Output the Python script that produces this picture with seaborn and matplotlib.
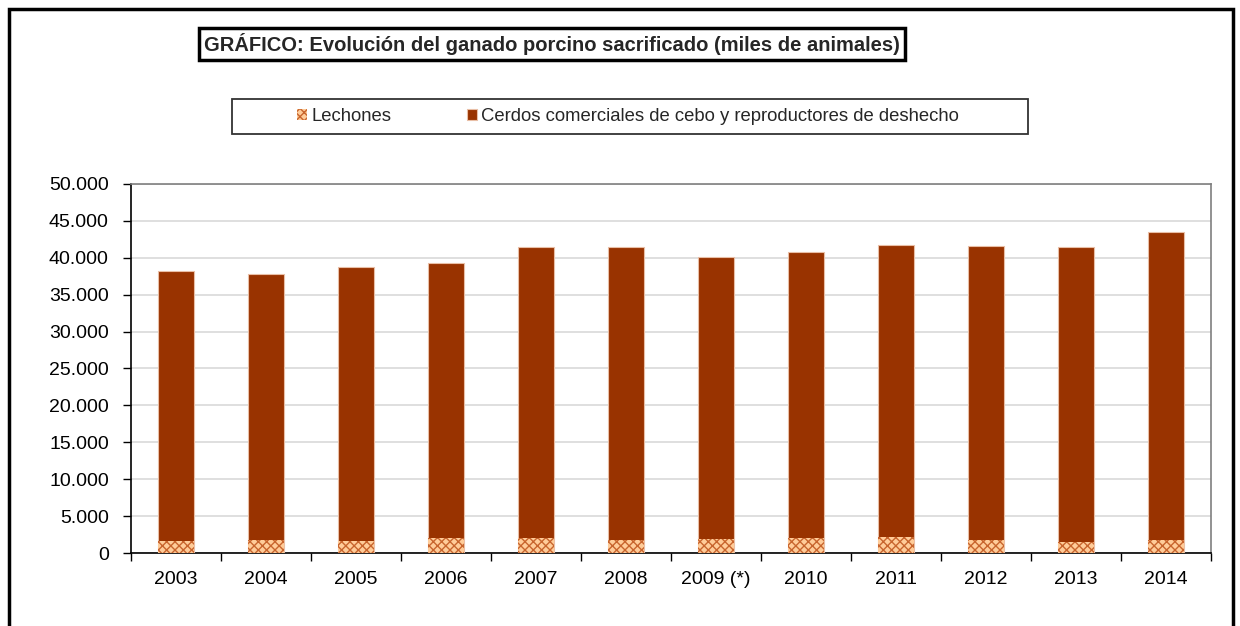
import numpy as np
import pandas as pd
import matplotlib
matplotlib.use("Agg")
import matplotlib.pyplot as plt
from matplotlib.patches import Rectangle
from matplotlib.ticker import FuncFormatter, FixedLocator
import seaborn as sns

# miles de animales
anios = ["2003", "2004", "2005", "2006", "2007", "2008",
         "2009 (*)", "2010", "2011", "2012", "2013", "2014"]
lechones = [1670, 1760, 1580, 1990, 2000, 1760, 1850, 2000, 2200, 1720, 1530, 1720]
cerdos = [36530, 36040, 37120, 37260, 39500, 39640, 38300, 38850, 39500, 39830, 39870, 41780]

etiqueta_lechones = "Lechones"
etiqueta_cerdos = "Cerdos comerciales de cebo y reproductores de deshecho"
titulo = "GRÁFICO: Evolución del ganado porcino sacrificado (miles de animales)"

W, H = 1240, 626

sns.set_style("white")
plt.rcParams["font.family"] = ["Liberation Sans", "DejaVu Sans"]
plt.rcParams["hatch.linewidth"] = 1.0

df = pd.DataFrame({"anio": anios, "lechones": lechones, "cerdos": cerdos})
df["total"] = df["lechones"] + df["cerdos"]

fig = plt.figure(figsize=(W / 100, H / 100), dpi=100)
ax = fig.add_axes([131 / W, 1 - 553 / H, 1080 / W, 369 / H])

sns.barplot(data=df, x="anio", y="total", color="#993300", saturation=1,
            width=0.4, edgecolor="#E9BFA6", linewidth=0.8, ax=ax, zorder=3)
sns.barplot(data=df, x="anio", y="lechones", color="#FFCC99", saturation=1,
            width=0.4, edgecolor="#C8652E", linewidth=0, hatch="xxxx",
            ax=ax, zorder=4)

ax.set_ylim(0, 50000)
ax.set_xlim(-0.5, len(anios) - 0.5)
ax.set_yticks(np.arange(0, 50001, 5000))
ax.yaxis.set_major_formatter(FuncFormatter(lambda v, p: f"{int(v):,}".replace(",", ".")))
ax.grid(axis="y", color="#D9D9D9", linewidth=1.2, zorder=0)
ax.set_axisbelow(True)
ax.set_xlabel("")
ax.set_ylabel("")

ax.xaxis.set_minor_locator(FixedLocator(np.arange(-0.5, len(anios), 1)))
ax.tick_params(axis="x", which="major", length=0, pad=13, labelsize=14, colors="black")
ax.tick_params(axis="x", which="minor", length=6, width=1, color="black", direction="out", bottom=True)
ax.tick_params(axis="y", which="major", length=6, width=1, color="black", direction="out",
               left=True, pad=10, labelsize=14, labelcolor="black")

for s in ["left", "bottom"]:
    ax.spines[s].set_color("black")
    ax.spines[s].set_linewidth(1.2)
for s in ["top", "right"]:
    ax.spines[s].set_color("#7F7F7F")
    ax.spines[s].set_linewidth(1.2)

# leyenda
handles = [ax.containers[1], ax.containers[0]]
fig.legend(handles, [etiqueta_lechones, etiqueta_cerdos], loc="center",
           bbox_to_anchor=(628 / W, 1 - 116.5 / H), ncol=2, frameon=False,
           fontsize=13.3, handlelength=0.55, handleheight=0.55,
           handletextpad=0.2, columnspacing=4.1)
fig.add_artist(Rectangle((232 / W, 1 - 134 / H), 796 / W, 35 / H,
                         transform=fig.transFigure, fill=False,
                         edgecolor="#333333", linewidth=1.3))

# titulo en recuadro
fig.text(552 / W, 1 - 44 / H, titulo, ha="center", va="center",
         fontsize=14.5, fontweight="bold",
         bbox=dict(boxstyle="square,pad=0.25", facecolor="white",
                   edgecolor="black", linewidth=2.5))

# marco exterior
fig.add_artist(Rectangle((9 / W, -0.02), 1224 / W, 1.02 - 9 / H,
                         transform=fig.transFigure, fill=False,
                         edgecolor="black", linewidth=2.5))

fig.savefig("out.png", dpi=100)
